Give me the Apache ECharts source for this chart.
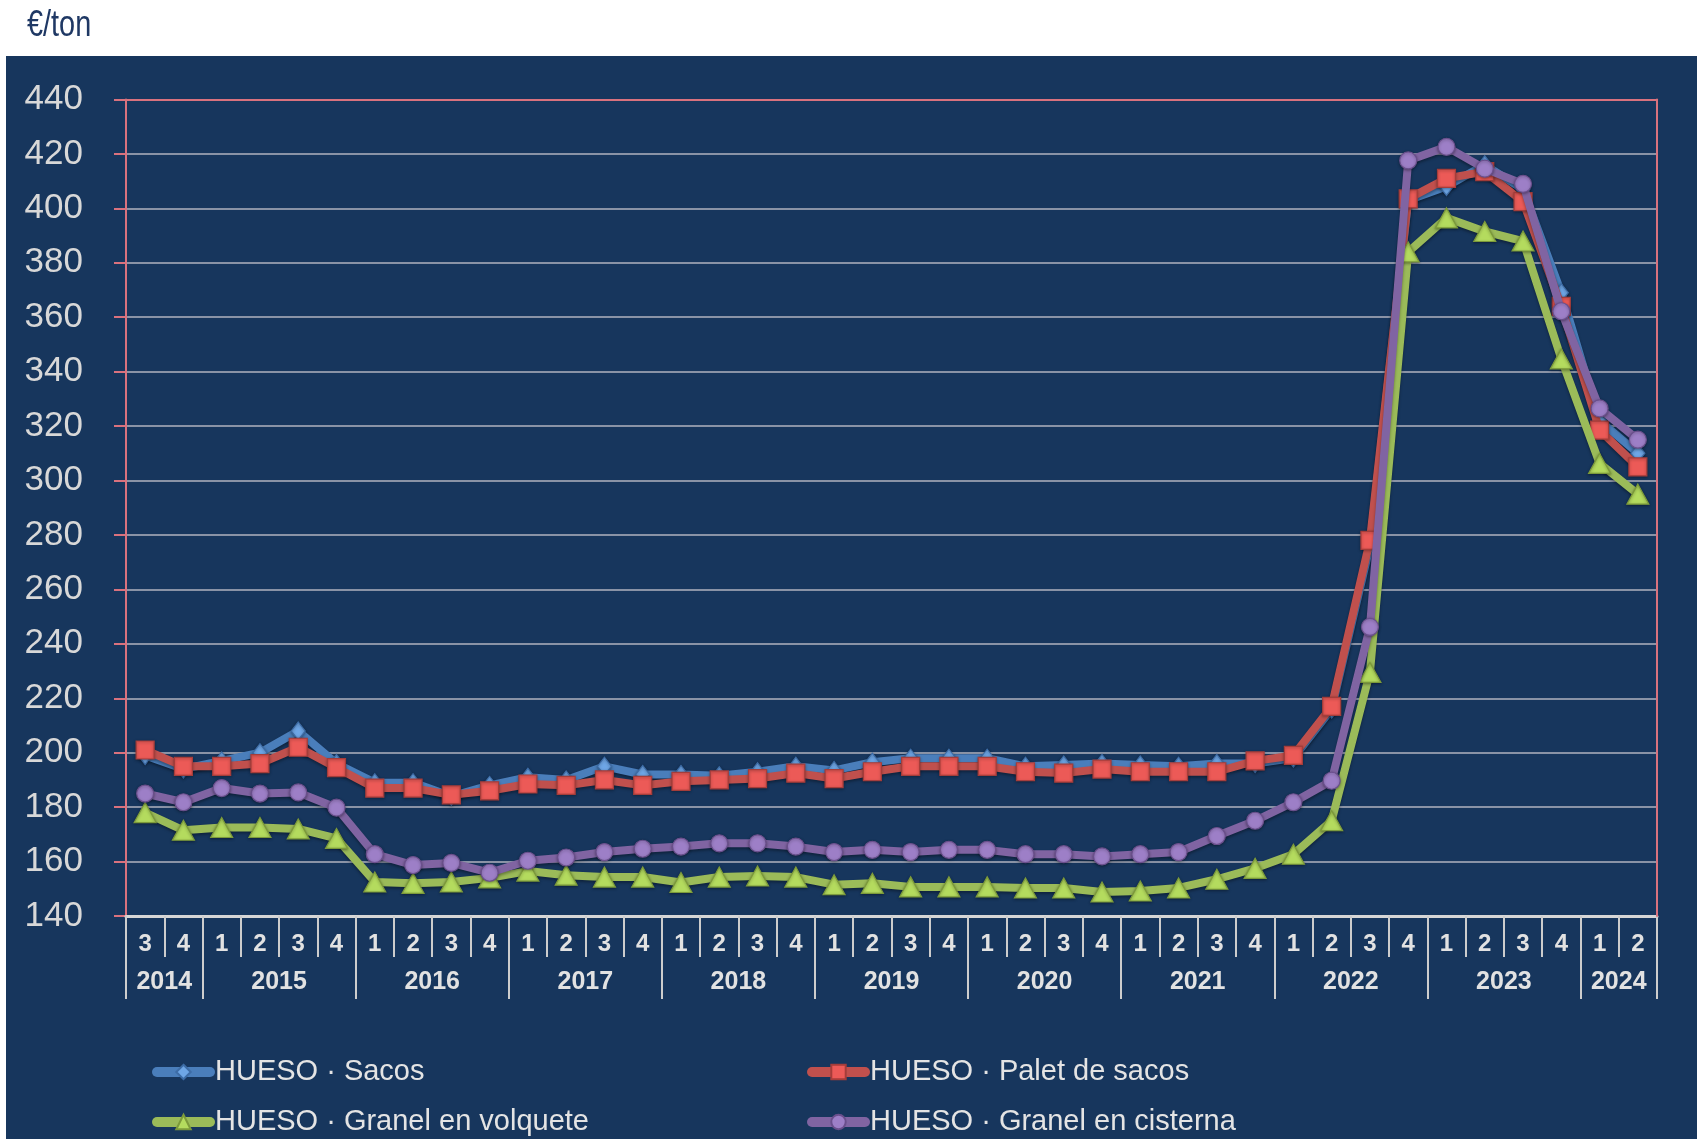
<!DOCTYPE html>
<html>
<head>
<meta charset="utf-8">
<script src="https://cdn.jsdelivr.net/npm/echarts@6/dist/echarts.min.js"></script>
<style>
html,body{margin:0;padding:0;background:#fff;}
#chart{width:1697px;height:1139px;}
</style>
</head>
<body>
<div id="chart"></div>
<script>
// ---- data ----
const quarterLabels = ['3','4','1','2','3','4','1','2','3','4','1','2','3','4','1','2','3','4','1','2','3','4','1','2','3','4','1','2','3','4','1','2','3','4','1','2','3','4','1','2'];
const yearLabels = ['2014','2015','2016','2017','2018','2019','2020','2021','2022','2023','2024'];
const yearSpans = [2,4,4,4,4,4,4,4,4,4,2];
const yTicks = {min:140, max:440, interval:20};

const sacos = [199,194,197,200,208,196,189,189,184,188,191,190,195,192,192,191.5,193,195,193.5,196.5,198,198,198,195,195.5,196,195.5,195,196,196,198,216,276,403,408,416,407,369,322,310];
const paletSacos = [201,195,195,196,202,194.5,187,187,184.5,186,188.5,188,190,188,189.5,190,190.5,192.5,190.5,193,195,195,195,193,192.5,194,193,193,193,197,199,217,278,403.5,411,413.5,402.5,364,318.5,305];
const granelVolquete = [178,171.5,172.5,172.5,172,168.5,152.5,152,152.5,154,156.5,155,154.3,154.3,152.3,154.3,154.7,154.3,151.5,152,150.7,150.7,150.7,150.3,150.3,148.8,149.2,150.3,153.5,157.5,162.7,175,229.5,384,396.5,391.5,388,344.7,306.3,295];
const granelCisterna = [185,181.8,187,185,185.4,179.8,162.7,158.7,159.5,155.9,160.3,161.5,163.5,164.7,165.5,166.7,166.7,165.5,163.5,164.3,163.5,164.3,164.3,162.7,162.7,161.9,162.7,163.5,169.4,175,181.8,189.7,246.2,417.6,422.6,414.6,409,362.2,326.5,315];
const seriesNames = ['HUESO · Sacos','HUESO · Palet de sacos','HUESO · Granel en volquete','HUESO · Granel en cisterna'];

// ---- year axis (boundary positions) ----
const boundaryLabels = [];
const yearBoundaries = new Set([0]);
{
  let pos = 0;
  const n = quarterLabels.length;
  for (let i = 0; i <= n; i++) boundaryLabels.push('');
  yearLabels.forEach((y, k) => {
    const center = pos + yearSpans[k] / 2;
    boundaryLabels[center] = y;
    pos += yearSpans[k];
    yearBoundaries.add(pos);
  });
}

const FONT = '"Liberation Sans", Arial, sans-serif';
const PINK = '#d9727e';

function lineSeries(name, data, color, symbol, size, fill, border, z) {
  return {
    name: name, type: 'line', data: data, xAxisIndex: 0, yAxisIndex: 0,
    symbol: symbol, symbolSize: size, z: z,
    lineStyle: {color: color, width: 8, cap: 'round', join: 'round', shadowColor: 'rgba(0,0,0,0.35)', shadowBlur: 3, shadowOffsetY: 2},
    itemStyle: {color: fill, borderColor: border, borderWidth: 1.2, shadowColor: 'rgba(0,0,0,0.35)', shadowBlur: 3, shadowOffsetY: 1},
    emphasis: {disabled: true},
    animation: false
  };
}

function legendItem(name, left, top) {
  return {
    data: [name], orient: 'horizontal', left: left, top: top, padding: 0,
    itemWidth: 53, itemHeight: 18,
    lineStyle: {width: 10, cap: 'round'},
    textStyle: {color: '#e4e4e4', fontSize: 29, fontFamily: FONT, lineHeight: 34},
    selectedMode: false
  };
}

const chart = echarts.init(document.getElementById('chart'), null, {renderer: 'canvas'});
chart.setOption({
  backgroundColor: '#ffffff',
  animation: false,
  graphic: {
    elements: [
      {type: 'rect', z: -100, silent: true, shape: {x: 6, y: 56, width: 1691, height: 1083}, style: {fill: '#17365d'}},
      {type: 'text', z: 10, silent: true, x: 27, y: 26, scaleX: 0.78, style: {text: '€/ton', x: 0, y: 0, fontSize: 37, fontFamily: FONT, fill: '#1f3864', verticalAlign: 'middle'}}
    ]
  },
  grid: {left: 126, right: 40, top: 99.5, bottom: 223, containLabel: false},
  legend: [
    legendItem(seriesNames[0], 152, 1055),
    legendItem(seriesNames[2], 152, 1105),
    legendItem(seriesNames[1], 807, 1055),
    legendItem(seriesNames[3], 807, 1105)
  ],
  xAxis: [
    {
      type: 'category', data: quarterLabels, position: 'bottom', boundaryGap: true,
      axisLine: {show: true, lineStyle: {color: '#d6d6d6', width: 3}},
      axisTick: {show: true, interval: 0, length: 41, lineStyle: {color: '#cdcdcd', width: 2}},
      axisLabel: {interval: 0, margin: 16, color: '#e2e2e2', fontSize: 24, fontWeight: 'bold', fontFamily: FONT, lineHeight: 24},
      splitLine: {show: false}, z: 3
    },
    {
      type: 'category', data: boundaryLabels, position: 'bottom', boundaryGap: false,
      axisLine: {show: false},
      axisTick: {show: true, length: 83, interval: function (idx) { return yearBoundaries.has(idx); }, lineStyle: {color: '#cdcdcd', width: 2}},
      axisLabel: {interval: 0, margin: 54, color: '#e2e2e2', fontSize: 25, fontWeight: 'bold', fontFamily: FONT, lineHeight: 25},
      splitLine: {show: false}, z: 2
    },
    {
      type: 'category', data: quarterLabels, position: 'top', boundaryGap: true,
      axisLine: {show: true, lineStyle: {color: PINK, width: 2}},
      axisTick: {show: false}, axisLabel: {show: false}, splitLine: {show: false}, z: 4
    }
  ],
  yAxis: [
    {
      type: 'value', min: yTicks.min, max: yTicks.max, interval: yTicks.interval, position: 'left',
      axisLine: {show: true, lineStyle: {color: PINK, width: 2}},
      axisTick: {show: true, length: 12, lineStyle: {color: PINK, width: 2}},
      axisLabel: {margin: 43, color: '#d8d8d8', fontSize: 35, fontFamily: FONT},
      splitLine: {show: true, lineStyle: {color: '#8a93a6', width: 2}}, z: 1
    },
    {
      type: 'value', min: yTicks.min, max: yTicks.max, interval: yTicks.interval, position: 'right',
      axisLine: {show: true, lineStyle: {color: PINK, width: 2}},
      axisTick: {show: false}, axisLabel: {show: false}, splitLine: {show: false}, z: 4
    }
  ],
  series: [
    lineSeries(seriesNames[0], sacos, '#4a7ebb', 'diamond', [14, 18], '#6ea6e6', '#3d6ca6', 5),
    lineSeries(seriesNames[1], paletSacos, '#c0504d', 'rect', 18, '#ec5a57', '#a53d3a', 6),
    lineSeries(seriesNames[2], granelVolquete, '#9bbb59', 'triangle', [22, 20], '#b4db5e', '#7c9a3a', 7),
    lineSeries(seriesNames[3], granelCisterna, '#8064a2', 'circle', 17, '#9d7fc7', '#6a4f8c', 8)
  ]
});
</script>
</body>
</html>
